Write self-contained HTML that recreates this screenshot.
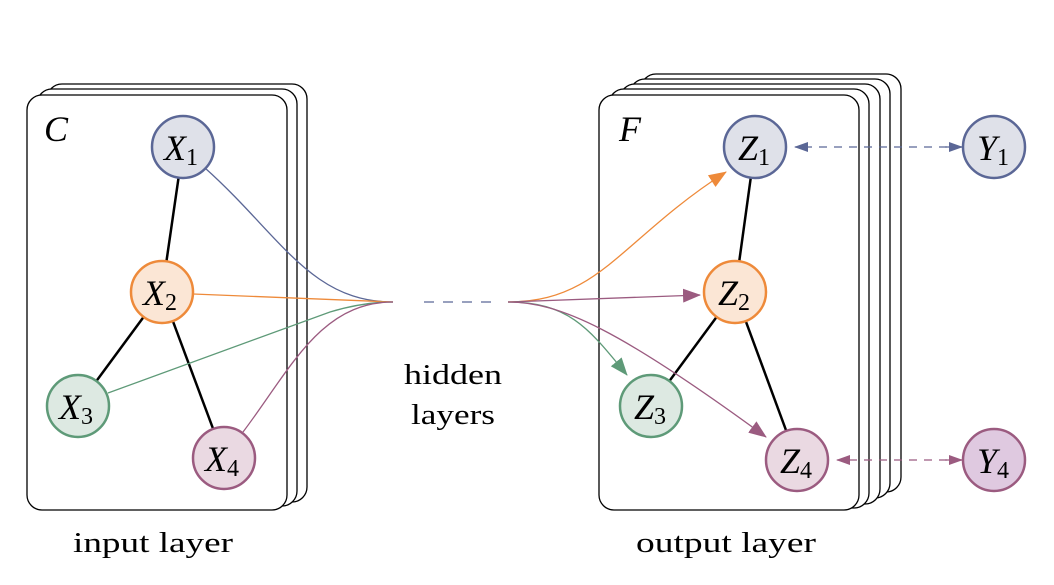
<!DOCTYPE html>
<html><head><style>html,body{margin:0;padding:0;background:#fff}</style></head><body>
<svg width="1054" height="580" viewBox="0 0 1054 580" xmlns="http://www.w3.org/2000/svg" font-family="'Liberation Serif', serif">
<defs>
<marker id="aO" markerWidth="18" markerHeight="14" refX="17" refY="7" orient="auto" markerUnits="userSpaceOnUse"><path d="M0,0 L18,7 L0,14 Z" fill="#ee8a3a"/></marker>
<marker id="aG" markerWidth="18" markerHeight="14" refX="17" refY="7" orient="auto" markerUnits="userSpaceOnUse"><path d="M0,0 L18,7 L0,14 Z" fill="#5e9a78"/></marker>
<marker id="aP" markerWidth="18" markerHeight="14" refX="17" refY="7" orient="auto" markerUnits="userSpaceOnUse"><path d="M0,0 L18,7 L0,14 Z" fill="#9b5b80"/></marker>
<marker id="bB" markerWidth="14" markerHeight="10" refX="13" refY="5" orient="auto" markerUnits="userSpaceOnUse"><path d="M0,0 L14,5 L0,10 Z" fill="#5b6796"/></marker>
<marker id="bP" markerWidth="14" markerHeight="10" refX="13" refY="5" orient="auto" markerUnits="userSpaceOnUse"><path d="M0,0 L14,5 L0,10 Z" fill="#9b5b80"/></marker>
</defs>
<g fill="#fff" stroke="#000" stroke-width="1.3">
<rect x="47" y="84" width="260" height="418" rx="15"/>
<rect x="37" y="89" width="260" height="417" rx="15"/>
<rect x="27" y="95" width="260" height="415" rx="15"/>
<rect x="641" y="74" width="260" height="418" rx="15"/>
<rect x="630" y="79" width="260" height="419" rx="15"/>
<rect x="620" y="84" width="260" height="420" rx="15"/>
<rect x="609" y="89" width="260" height="419" rx="15"/>
<rect x="599" y="95" width="260" height="415" rx="15"/>
</g>
<g stroke="#000" stroke-width="2.5">
<line x1="183" y1="147" x2="162" y2="292"/><line x1="162" y1="292" x2="78" y2="406"/><line x1="162" y1="292" x2="224" y2="458"/>
<line x1="755" y1="147" x2="735" y2="292"/><line x1="735" y1="292" x2="651" y2="406"/><line x1="735" y1="292" x2="797" y2="460"/>
</g>
<g fill="none" stroke-width="1.3">
<path d="M205,168 C280,235 310,302 393,302" stroke="#5b6796"/>
<path d="M193,294 L393,302" stroke="#ee8a3a"/>
<path d="M108,393 L330,312 C360,303 380,302 393,302" stroke="#5e9a78"/>
<path d="M243,432 C290,370 320,302 393,302" stroke="#9b5b80"/>
<line x1="424" y1="302" x2="492" y2="302" stroke="#5b6796" stroke-dasharray="10,9"/>
<path d="M508,302 C600,302 620,240 726,172" stroke="#ee8a3a" marker-end="url(#aO)"/>
<path d="M508,302 L700,295" stroke="#9b5b80" marker-end="url(#aP)"/>
<path d="M508,302 C570,302 590,330 627,375" stroke="#5e9a78" marker-end="url(#aG)"/>
<path d="M508,302 C560,302 620,330 766,437" stroke="#9b5b80" marker-end="url(#aP)"/>
<line x1="962" y1="147" x2="795" y2="147" stroke="#5b6796" stroke-dasharray="8,7" marker-end="url(#bB)"/>
<line x1="962" y1="460" x2="837" y2="460" stroke="#9b5b80" stroke-dasharray="8,7" marker-end="url(#bP)"/>
<line x1="945" y1="147" x2="962" y2="147" stroke="#5b6796" marker-end="url(#bB)"/>
<line x1="945" y1="460" x2="962" y2="460" stroke="#9b5b80" marker-end="url(#bP)"/>
</g>
<g stroke-width="2.5">
<circle cx="183" cy="147" r="31" fill="#dfe1e9" stroke="#5b6796"/>
<circle cx="162" cy="292" r="31" fill="#fbe6d5" stroke="#ee8a3a"/>
<circle cx="78" cy="406" r="31" fill="#dde9e2" stroke="#5e9a78"/>
<circle cx="224" cy="458" r="31" fill="#ead9e2" stroke="#9b5b80"/>
<circle cx="755" cy="147" r="31" fill="#dfe1e9" stroke="#5b6796"/>
<circle cx="735" cy="292" r="31" fill="#fbe6d5" stroke="#ee8a3a"/>
<circle cx="651" cy="406" r="31" fill="#dde9e2" stroke="#5e9a78"/>
<circle cx="797" cy="460" r="31" fill="#ead9e2" stroke="#9b5b80"/>
<circle cx="994" cy="147" r="31" fill="#dfe1e9" stroke="#5b6796"/>
<circle cx="994" cy="460" r="31" fill="#dfc9e0" stroke="#9b5b80"/>
</g>
<g font-size="36" font-style="italic" fill="#000" text-anchor="middle">
<text x="181" y="160">X<tspan font-size="24" font-style="normal" dy="5">1</tspan></text>
<text x="160" y="305">X<tspan font-size="24" font-style="normal" dy="5">2</tspan></text>
<text x="76" y="419">X<tspan font-size="24" font-style="normal" dy="5">3</tspan></text>
<text x="222" y="471">X<tspan font-size="24" font-style="normal" dy="5">4</tspan></text>
<text x="754" y="160">Z<tspan font-size="24" font-style="normal" dy="5">1</tspan></text>
<text x="734" y="305">Z<tspan font-size="24" font-style="normal" dy="5">2</tspan></text>
<text x="650" y="419">Z<tspan font-size="24" font-style="normal" dy="5">3</tspan></text>
<text x="796" y="473">Z<tspan font-size="24" font-style="normal" dy="5">4</tspan></text>
<text x="993" y="160">Y<tspan font-size="24" font-style="normal" dy="5">1</tspan></text>
<text x="993" y="473">Y<tspan font-size="24" font-style="normal" dy="5">4</tspan></text>
<text x="56" y="141">C</text>
<text x="630" y="141">F</text>
</g>
<g font-size="29" fill="#000">
<text x="404" y="384" textLength="98" lengthAdjust="spacingAndGlyphs">hidden</text>
<text x="411" y="424" textLength="84" lengthAdjust="spacingAndGlyphs">layers</text>
<text x="73" y="552" textLength="160" lengthAdjust="spacingAndGlyphs">input layer</text>
<text x="636" y="552" textLength="180" lengthAdjust="spacingAndGlyphs">output layer</text>
</g>
</svg>
</body></html>
